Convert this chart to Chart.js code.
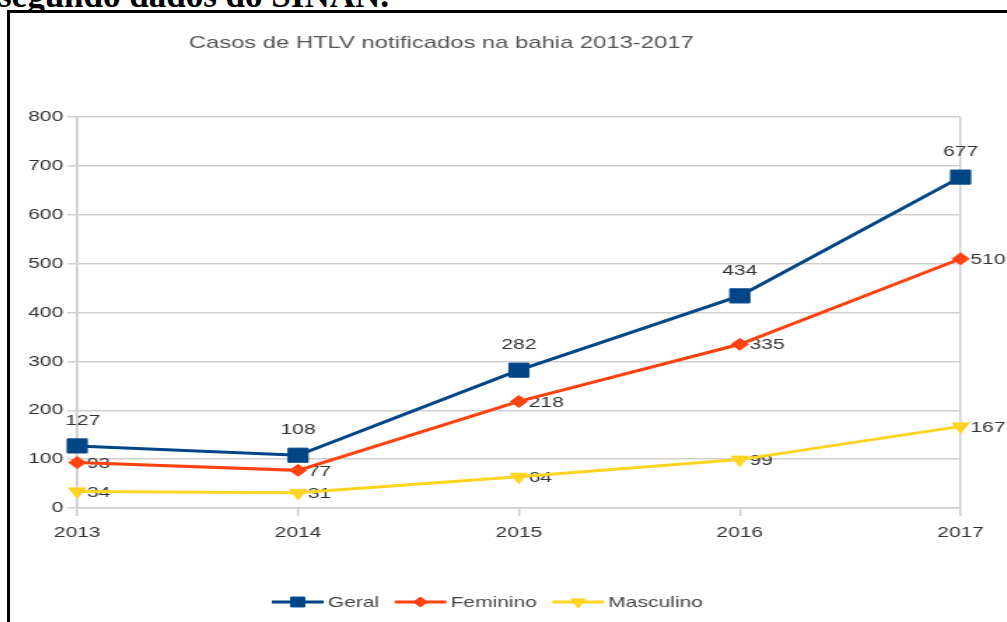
<!DOCTYPE html>
<html lang="pt">
<head>
<meta charset="utf-8">
<title>Casos de HTLV notificados na bahia 2013-2017</title>
<script src="https://cdn.jsdelivr.net/npm/chart.js@4.4.1/dist/chart.umd.min.js"></script>
<style>
    html, body {
        margin: 0;
        padding: 0;
        background: #fff;
        width: 1007px;
        height: 622px;
        overflow: hidden;
        position: relative;
    }
    .caption {
        position: absolute;
        left: -2px;
        top: -22px;
        font: bold 35px/35px "Liberation Serif", "Times New Roman", serif;
        color: #000;
        white-space: nowrap;
    }
    .frame {
        position: absolute;
        left: 7px;
        top: 10px;
        width: 1010px;
        height: 620px;
        border-left: 3px solid #000;
        border-top: 3px solid #000;
        background: #fff;
    }
    /* the chart is drawn narrow and widened, like the exported picture */
    #htlvChart {
        position: absolute;
        left: 0;
        top: 0;
        width: 712px;
        height: 609px;
        transform: scaleX(1.4);
        transform-origin: 0 0;
    }
</style>
</head>
<body>
<div class="caption">segundo dados do SINAN.</div>
<div class="frame">
    <canvas id="htlvChart" width="712" height="609"></canvas>
</div>

<script>
// Data
const years = ['2013', '2014', '2015', '2016', '2017'];
const geral = [127, 108, 282, 434, 677];
const feminino = [93, 77, 218, 335, 510];
const masculino = [34, 31, 64, 99, 167];
const yMin = 0;
const yMax = 800;
const yStep = 100;

const chartTitle = 'Casos de HTLV notificados na bahia 2013-2017';
const FONT = '"Liberation Sans", Arial, sans-serif';
const gridColor = '#cfcfcf';

// Title, drawn left of the canvas centre
const titlePlugin = {
    id: 'htlvTitle',
    afterDraw(chart) {
        const ctx = chart.ctx;
        ctx.save();
        ctx.font = '17px ' + FONT;
        ctx.fillStyle = '#555';
        ctx.textAlign = 'center';
        ctx.textBaseline = 'middle';
        ctx.fillText(chartTitle, 308, 30);
        ctx.restore();
    }
};

// Value labels: Geral above the point, the others to the right
const valueLabels = {
    id: 'valueLabels',
    beforeDatasetsDraw(chart) {
        const ctx = chart.ctx;
        ctx.save();
        ctx.font = '15px ' + FONT;
        ctx.fillStyle = '#333';
        ctx.textBaseline = 'middle';
        chart.data.datasets.forEach((ds, i) => {
            const meta = chart.getDatasetMeta(i);
            meta.data.forEach((pt, j) => {
                const text = String(ds.data[j]);
                if (ds.labelPos === 'top') {
                    // keep the first label clear of the y axis
                    const dx = j === 0 ? 4 : 0;
                    ctx.textAlign = 'center';
                    ctx.fillText(text, pt.x + dx, pt.y - 25);
                } else {
                    ctx.textAlign = 'left';
                    ctx.fillText(text, pt.x + 7, pt.y + 1);
                }
            });
        });
        ctx.restore();
    }
};

// Legend with a line + marker sample for each series
const lineLegend = {
    id: 'lineLegend',
    afterDraw(chart) {
        const ctx = chart.ctx;
        const y = 589;
        let x = 187;
        ctx.save();
        ctx.font = '15px ' + FONT;
        ctx.textBaseline = 'middle';
        ctx.textAlign = 'left';
        chart.data.datasets.forEach(ds => {
            ctx.strokeStyle = ds.borderColor;
            ctx.lineWidth = 3;
            ctx.beginPath();
            ctx.moveTo(x, y);
            ctx.lineTo(x + 37, y);
            ctx.stroke();
            ctx.fillStyle = ds.borderColor;
            ctx.lineWidth = 1;
            Chart.helpers.drawPoint(ctx, {
                pointStyle: ds.pointStyle,
                radius: ds.legendRadius,
                rotation: ds.pointRotation || 0,
                borderWidth: 1
            }, x + 18.5, y);
            ctx.fillStyle = '#444';
            ctx.fillText(ds.label, x + 40, y + 1);
            x += 40 + ctx.measureText(ds.label).width + 11;
        });
        ctx.restore();
    }
};

function series(label, data, color, pointStyle, radius, legendRadius, labelPos, rotation) {
    return {
        label: label,
        data: data,
        borderColor: color,
        backgroundColor: color,
        borderWidth: 3,
        pointStyle: pointStyle,
        pointRotation: rotation || 0,
        pointRadius: radius,
        pointHoverRadius: radius,
        pointBackgroundColor: color,
        pointBorderColor: color,
        pointBorderWidth: 1,
        tension: 0,
        clip: false,
        legendRadius: legendRadius,
        labelPos: labelPos
    };
}

new Chart(document.getElementById('htlvChart'), {
    type: 'line',
    data: {
        labels: years,
        datasets: [
            series('Geral', geral, '#004586', 'rect', 10, 7, 'top'),
            series('Feminino', feminino, '#ff420e', 'rectRot', 6, 5, 'right'),
            series('Masculino', masculino, '#ffd320', 'triangle', 7, 6, 'right', 180)
        ]
    },
    options: {
        responsive: false,
        animation: false,
        events: [],
        layout: {
            padding: { top: 104, right: 33, bottom: 40, left: 0 }
        },
        scales: {
            x: {
                offset: false,
                grid: {
                    color: ctx => (ctx.index === 0 || ctx.index === years.length - 1) ? gridColor : 'transparent',
                    tickColor: gridColor,
                    tickLength: 8,
                    lineWidth: 1.5
                },
                border: { display: true, color: gridColor, width: 1.5 },
                ticks: {
                    font: { family: FONT, size: 15 },
                    color: '#333',
                    padding: 8,
                    maxRotation: 0
                },
                afterFit: scale => { scale.height = 74; }
            },
            y: {
                min: yMin,
                max: yMax,
                grid: {
                    color: gridColor,
                    tickLength: 7,
                    lineWidth: 1.5
                },
                border: { display: true, color: gridColor, width: 1.5 },
                ticks: {
                    stepSize: yStep,
                    font: { family: FONT, size: 15 },
                    color: '#333',
                    padding: 3
                },
                afterFit: scale => { scale.width = 48; }
            }
        },
        plugins: {
            legend: { display: false },
            title: { display: false },
            tooltip: { enabled: false }
        }
    },
    plugins: [titlePlugin, valueLabels, lineLegend]
});
</script>
</body>
</html>
